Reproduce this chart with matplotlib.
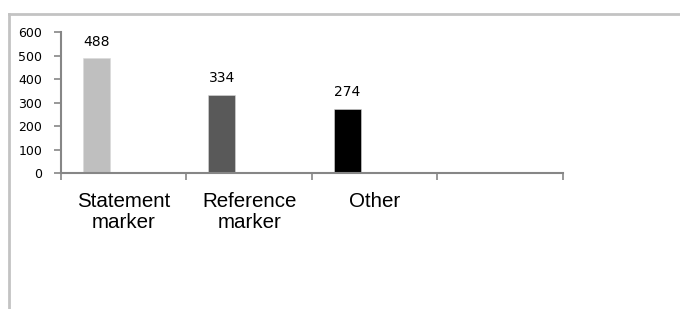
import matplotlib
matplotlib.use("Agg")
import matplotlib.pyplot as plt
from matplotlib.lines import Line2D
import numpy as np

# counts per marker type, one bar per category (4th slot left empty)
categories = ["Statement\nmarker", "Reference\nmarker", "Other", ""]
counts = [488, 334, 274]
bar_colors = ["#bfbfbf", "#595959", "#000000"]
yticks = [0, 100, 200, 300, 400, 500, 600]

fig = plt.figure(figsize=(6.8, 3.09), dpi=100)
ax = fig.add_axes([0.0897, 0.440, 0.738, 0.4564])

# light frame round the chart area (top and left edges show)
frame = "#c3c3c3"
fig.add_artist(Line2D([9 / 680, 1.0], [1 - 14 / 309] * 2, color=frame, lw=2))
fig.add_artist(Line2D([9 / 680] * 2, [0.0, 1 - 14 / 309], color=frame, lw=2))

x = np.arange(len(counts))
ax.bar(x + 0.283, counts, width=0.215, color=bar_colors,
       edgecolor="#d9d9d9", linewidth=0.4)
for xi, c in zip(x, counts):
    ax.annotate(str(c), (xi + 0.283, c), xytext=(0, 7),
                textcoords="offset points", ha="center", va="bottom",
                fontsize=10, color="#000000", family="DejaVu Sans")

ax.set_xlim(0, len(categories))
ax.set_ylim(0, 600)
ax.set_yticks(yticks)
ax.set_xticks(np.arange(len(categories) + 1))
ax.set_xticklabels([])
ax.set_xticks(np.arange(len(categories)) + 0.5, minor=True)
ax.set_xticklabels(categories, minor=True, fontsize=14.8,
                   family="Liberation Sans", linespacing=1.12)

axis_col = "#868686"
for s in ("top", "right"):
    ax.spines[s].set_visible(False)
for s in ("left", "bottom"):
    ax.spines[s].set_color(axis_col)
    ax.spines[s].set_linewidth(1.5)
ax.tick_params(axis="both", which="major", direction="out", length=5,
               width=1.2, color=axis_col)
ax.tick_params(axis="y", labelsize=9, pad=8.5, labelcolor="#000000")
ax.tick_params(axis="x", which="minor", length=0, pad=14)
for t in ax.get_yticklabels():
    t.set_family("DejaVu Sans")

fig.savefig("out.png", dpi=100)
